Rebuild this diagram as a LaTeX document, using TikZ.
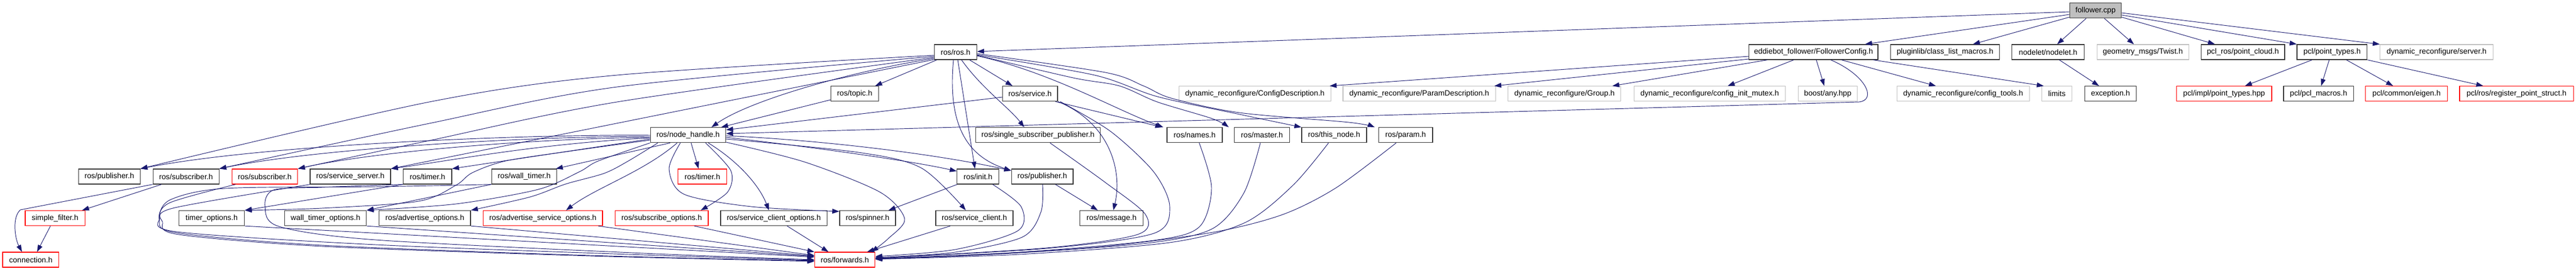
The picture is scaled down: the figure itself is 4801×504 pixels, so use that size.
\documentclass[tikz,border=0pt]{standalone}
\usepackage{fontspec}
\setmainfont{Liberation Sans}
\usetikzlibrary{arrows.meta}
\definecolor{edgec}{HTML}{191970}
\definecolor{gborder}{HTML}{BFBFBF}
\definecolor{curfill}{HTML}{BFBFBF}
\newcommand\nodefont{\fontsize{14.2pt}{17pt}\selectfont}
\begin{document}
\begin{tikzpicture}[x=1pt,y=-1pt,
  base/.style={rectangle, inner sep=0pt, minimum height=28pt, font=\nodefont, line width=1.3pt},
  nb/.style={base, draw=black!80},
  ng/.style={base, draw=gborder, line width=1.1pt},
  nr/.style={base, draw=red},
  w/.style={minimum width=#1},
  e/.style={draw=edgec, line width=0.95pt, -{Triangle[length=13pt,width=9pt]}}]
\useasboundingbox (0,0) rectangle (4801,504);
% row 0
\node[nb, fill=curfill, w=96.5] (fcpp) at (3905.5,19.7) {follower.cpp};
% row 1
\node[nb, w=79]    (ros)     at (1780.9,97) {ros/ros.h};
\node[nb, w=240.3] (fconf)   at (3379.9,97) {eddiebot\_follower/FollowerConfig.h};
\node[nb, w=203]   (plug)    at (3625,97) {pluginlib/class\_list\_macros.h};
\node[nb, w=135.2] (nodelet) at (3817.1,97) {nodelet/nodelet.h};
\node[ng, w=171]   (twist)   at (3993.7,97) {geometry\_msgs/Twist.h};
\node[nb, w=155.8] (pclros)  at (4180.1,97) {pcl\_ros/point\_cloud.h};
\node[nb, w=130.7] (ptypes)  at (4346.4,97) {pcl/point\_types.h};
\node[ng, w=211]   (server)  at (4541.2,97) {dynamic\_reconfigure/server.h};
% row 2
\node[nb, w=88.7]  (topic)   at (1592.9,174.7) {ros/topic.h};
\node[nb, w=102.5] (service) at (1919.7,174.7) {ros/service.h};
\node[ng, w=282.7] (cdesc)   at (2338.8,174.7) {dynamic\_reconfigure/ConfigDescription.h};
\node[ng, w=284.2] (pdesc)   at (2645.1,174.7) {dynamic\_reconfigure/ParamDescription.h};
\node[ng, w=210.2] (group)   at (2915.8,174.7) {dynamic\_reconfigure/Group.h};
\node[ng, w=282.2] (mutex)   at (3186.5,174.7) {dynamic\_reconfigure/config\_init\_mutex.h};
\node[ng, w=110.7] (any)     at (3406.4,174.7) {boost/any.hpp};
\node[ng, w=246.9] (ctools)  at (3658.7,174.7) {dynamic\_reconfigure/config\_tools.h};
\node[ng, w=56.6]  (limits)  at (3833.4,174.7) {limits};
\node[nb, w=96.4]  (exc)     at (3933.4,174.7) {exception.h};
\node[nr, w=177.8] (impl)    at (4145.1,174.7) {pcl/impl/point\_types.hpp};
\node[nb, w=130.2] (macros)  at (4321.1,174.7) {pcl/pcl\_macros.h};
\node[nr, w=152.7] (eigen)   at (4485.1,174.7) {pcl/common/eigen.h};
\node[nr, w=212.5] (reg)     at (4690.2,174.7) {pcl/ros/register\_point\_struct.h};
% row 3
\node[nb, w=140.4] (nh)       at (1282.4,251.7) {ros/node\_handle.h};
\node[nb, w=232.1] (ssp)      at (1934.5,251.7) {ros/single\_subscriber\_publisher.h};
\node[nb, w=103]   (names)    at (2226.5,251.7) {ros/names.h};
\node[nb, w=103.1] (master)   at (2352,251.7) {ros/master.h};
\node[nb, w=120.9] (thisnode) at (2486.5,251.7) {ros/this\_node.h};
\node[nb, w=100.5] (param)    at (2619.7,251.7) {ros/param.h};
% row 4
\node[nb, w=114.8] (pubL)   at (203.8,329) {ros/publisher.h};
\node[nb, w=123]   (subB)   at (346.7,329) {ros/subscriber.h};
\node[nr, w=122.5] (subR)   at (493.4,329) {ros/subscriber.h};
\node[nb, w=150]   (ssrv)   at (653,329) {ros/service\_server.h};
\node[nb, w=90.3]  (timerB) at (796.7,329) {ros/timer.h};
\node[nb, w=121.5] (wtimer) at (977,329) {ros/wall\_timer.h};
\node[nr, w=91.3]  (timerR) at (1309,329) {ros/timer.h};
\node[nb, w=78]    (init)   at (1822.7,329) {ros/init.h};
\node[nb, w=114.8] (pub2)   at (1942.6,329) {ros/publisher.h};
% row 5
\node[nr, w=111.3] (sfilter) at (102.6,406.5) {simple\_filter.h};
\node[nb, w=122.4] (topt)    at (394.4,406.5) {timer\_options.h};
\node[nb, w=152.1] (wtopt)   at (606.7,406.5) {wall\_timer\_options.h};
\node[nb, w=170.4] (aopt)    at (791.8,406.5) {ros/advertise\_options.h};
\node[nr, w=222.5] (asopt)   at (1011.8,406.5) {ros/advertise\_service\_options.h};
\node[nr, w=173.5] (subopt)  at (1233.2,406.5) {ros/subscribe\_options.h};
\node[nb, w=198.4] (scopt)   at (1442.1,406.5) {ros/service\_client\_options.h};
\node[nb, w=104.1] (spinner) at (1616.9,406.5) {ros/spinner.h};
\node[nb, w=143.9] (sclient) at (1815.9,406.5) {ros/service\_client.h};
\node[nb, w=117.8] (msg)     at (2071.7,406.5) {ros/message.h};
% row 6
\node[nr, w=104.6] (conn) at (57.4,484) {connection.h};
\node[nr, w=112.2] (fwd)  at (1574.5,484) {ros/forwards.h};

% ---- follower.cpp
\draw[e] (fcpp.west |- 0,22) -- (ros.east |- 0,96);
\draw[e] (fcpp.west |- 0,27) -- (3476,0 |- fconf.north);
\draw[e] (fcpp.west |- 0,32) -- (3677,0 |- plug.north);
\draw[e] (3888,0 |- fcpp.south) -- (3834,0 |- nodelet.north);
\draw[e] (3922,0 |- fcpp.south) -- (3977,0 |- twist.north);
\draw[e] (fcpp.east |- 0,32) -- (4128,0 |- pclros.north);
\draw[e] (fcpp.east |- 0,28) -- (ptypes.north west);
\draw[e] (fcpp.east |- 0,24) -- (server.north west);
% ---- pcl / nodelet
\draw[e] (4309,0 |- ptypes.south) -- (4184,0 |- impl.north);
\draw[e] (4341,0 |- ptypes.south) -- (4326,0 |- macros.north);
\draw[e] (4373,0 |- ptypes.south) -- (4460,0 |- eigen.north);
\draw[e] (ptypes.south east) -- (4628,0 |- reg.north);
\draw[e] (3838,0 |- nodelet.south) -- (3912,0 |- exc.north);
% ---- FollowerConfig
\draw[e] (3343,0 |- fconf.south) -- (3220,0 |- mutex.north);
\draw[e] (3385,0 |- fconf.south) -- (3400,0 |- any.north);
\draw[e] (3432,0 |- fconf.south) -- (3608,0 |- ctools.north);
\draw[e] (3491,0 |- fconf.south) -- (3809,0 |- limits.north);
\draw[e] (fconf.west |- 0,105) -- (2478,0 |- cdesc.north);
\draw[e] (fconf.west |- 0,110) -- (2785,0 |- pdesc.north);
\draw[e] (3294,0 |- fconf.south) -- (3005,0 |- group.north);
\draw[e] (3412,0 |- fconf.south) .. controls (3478,140) and (3498,186) .. (3465,190) -- (nh.east |- 0,249);
% ---- ros.h
\draw[e] (1746,0 |- ros.south) -- (1631,0 |- topic.north);
\draw[e] (ros.west |- 0,109) .. controls (1600,130) and (1400,185) .. (1326,0 |- nh.north);
\draw[e] (topic.west |- 0,186) -- (1344,0 |- nh.north);
\draw[e] (service.west |- 0,181) -- (nh.east |- 0,242);
\draw[e] (1807,0 |- ros.south) -- (1887,0 |- service.north);
\draw[e] (1792,0 |- ros.south) .. controls (1830,165) and (1880,200) .. (1909,0 |- ssp.north);
\draw[e] (1785,0 |- ros.south) -- (1817,0 |- init.north);
\draw[e] (1777,0 |- ros.south) .. controls (1766,230) and (1800,290) .. (pub2.west |- 0,318);
\draw[e] (ros.east |- 0,104) .. controls (1960,135) and (2080,205) .. (2168,0 |- names.north);
\draw[e] plot[smooth] coordinates {(ros.east |- 0,103) (2000,145) (2086,160) (2157,190) (2259,221) (2290,0 |- master.north)};
\draw[e] plot[smooth] coordinates {(ros.east |- 0,102) (2040,140) (2157,180) (2310,213) (thisnode.north west)};
\draw[e] plot[smooth] coordinates {(ros.east |- 0,100) (2060,135) (2131,160) (2183,183) (2310,210) (2514,228) (2562,0 |- param.north)};
\draw[e] plot[smooth] coordinates {(ros.west |- 0,103) (1150,140) (800,190) (pubL.north east)};
\draw[e] plot[smooth] coordinates {(ros.west |- 0,105) (1150,162) (800,230) (subB.north east)};
\draw[e] plot[smooth] coordinates {(ros.west |- 0,107) (1150,190) (800,262) (subR.north east)};
\draw[e] (ros.west |- 0,111) -- (ssrv.north east);
% ---- service.h
\draw[e] (1967,0 |- service.south) -- (2166,0 |- names.north);
\draw[e] (1972,0 |- service.south) .. controls (2070,230) and (2092,320) .. (2075,0 |- msg.north);
\draw[e] plot[smooth] coordinates {(1976,0 |- service.south) (2070,245) (2150,320) (2180,385) (2150,435) (1950,463) (fwd.east |- 0,481)};
% ---- into forwards from the right
\draw[e] plot[smooth] coordinates {(1957,0 |- ssp.south) (2060,340) (2135,400) (2120,437) (1950,462) (fwd.east |- 0,481)};
\draw[e] plot[smooth] coordinates {(2235,0 |- names.south) (2258,350) (2235,423) (2150,448) (1900,470) (fwd.east |- 0,482)};
\draw[e] plot[smooth] coordinates {(2349,0 |- master.south) (2318,360) (2258,427) (2130,454) (1850,474) (fwd.east |- 0,482)};
\draw[e] plot[smooth] coordinates {(2476,0 |- thisnode.south) (2410,345) (2320,415) (2180,452) (1900,474) (fwd.east |- 0,483)};
\draw[e] plot[smooth] coordinates {(2602,0 |- param.south) (2490,350) (2390,400) (2260,433) (2050,460) (1800,476) (fwd.east |- 0,483)};
% ---- publisher / init / service_client
\draw[e] (1967,0 |- pub2.south) -- (2046,0 |- msg.north);
\draw[e] plot[smooth] coordinates {(1943,0 |- pub2.south) (1940,395) (1905,442) (1780,470) (fwd.east |- 0,480)};
\draw[e] (1784,0 |- init.south) -- (1656,0 |- spinner.north);
\draw[e] plot[smooth] coordinates {(1850,0 |- init.south) (1903,385) (1897,430) (1780,465) (fwd.east |- 0,478)};
\draw[e] (1771,0 |- sclient.south) -- (1616,0 |- fwd.north);
% ---- node_handle.h
\draw[e] plot[smooth] coordinates {(nh.east |- 0,265) (1500,302) (1640,358) (1686,408) (1655,445) (1624,0 |- fwd.north)};
\draw[e] plot[smooth] coordinates {(nh.east |- 0,259) (1600,284) (1717,313) (1800,0 |- sclient.north)};
\draw[e] (nh.east |- 0,256) .. controls (1500,272) and (1700,300) .. (init.west |- 0,319);
\draw[e] (nh.east |- 0,253) .. controls (1550,262) and (1760,290) .. (pub2.west |- 0,318);
\draw[e] (1288,0 |- nh.south) -- (1302,0 |- timerR.north);
\draw[e] plot[smooth] coordinates {(1315,0 |- nh.south) (1362,318) (1356,358) (1306,0 |- subopt.north)};
\draw[e] (1320,0 |- nh.south) .. controls (1375,300) and (1415,345) .. (1433,0 |- scopt.north);
\draw[e] plot[smooth] coordinates {(1268,0 |- nh.south) (1247,315) (1275,362) (1400,385) (spinner.west |- 0,394)};
\draw[e] (1262,0 |- nh.south) .. controls (1200,320) and (1110,350) .. (1055,0 |- asopt.north);
\draw[e] plot[smooth] coordinates {(1226,0 |- nh.south) (1171,300) (1126,323) (1054,343) (988,367) (aopt.north east)};
\draw[e] plot[smooth] coordinates {(nh.south west) (1115,300) (1080,320) (1003,353) (850,380) (wtopt.north east)};
\draw[e] plot[smooth] coordinates {(nh.west |- 0,261) (1060,282) (942,300) (880,322) (850,345) (780,375) (600,388) (topt.north east)};
\draw[e] (1249,0 |- nh.south) -- (1036,0 |- wtimer.north);
\draw[e] (nh.west |- 0,259) -- (timerB.north east);
\draw[e] (nh.west |- 0,257) .. controls (1000,268) and (850,298) .. (ssrv.north east);
\draw[e] (nh.west |- 0,256) .. controls (1000,258) and (700,282) .. (subR.north east);
\draw[e] (nh.west |- 0,254) .. controls (1000,254) and (600,275) .. (subB.north east);
\draw[e] (nh.west |- 0,252) .. controls (1000,250) and (500,268) .. (pubL.north east);
% ---- timers
\draw[e] (timerB.south west) -- (topt.north east);
\draw[e] (wtimer.south west) -- (wtopt.north east);
% ---- loops into forwards from the left
\draw[e] plot[smooth] coordinates {(wtimer.south west) (700,348) (420,351) (318,372) (298,405) (330,432) (700,456) (1200,475) (fwd.west |- 0,485)};
\draw[e] plot[smooth] coordinates {(timerB.south west) (600,349) (510,354) (494,385) (520,422) (700,447) (1200,472) (fwd.west |- 0,484)};
\draw[e] plot[smooth] coordinates {(439,0 |- subR.south) (316,378) (297,410) (330,434) (600,457) (1100,476) (fwd.west |- 0,486)};
\draw[e] plot[smooth] coordinates {(578,0 |- ssrv.south) (322,388) (303,414) (333,437) (600,459) (1100,477) (fwd.west |- 0,487)};
\draw[e] (topt.south east) -- (fwd.west |- 0,479);
\draw[e] (wtopt.south east) -- (fwd.west |- 0,478);
\draw[e] (aopt.south east) -- (fwd.west |- 0,477);
\draw[e] (1115,0 |- asopt.south) -- (fwd.west |- 0,476);
\draw[e] (1294,0 |- subopt.south) -- (fwd.north west);
\draw[e] (1467,0 |- scopt.south) -- (1544,0 |- fwd.north);
% ---- subscriber / simple_filter / connection
\draw[e] (301,0 |- subB.south) -- (153,0 |- sfilter.north);
\draw[e] (subB.south west) -- (38,391) .. controls (22,405) and (28,445) .. (41,0 |- conn.north);
\draw[e] (94,0 |- sfilter.south) -- (69,0 |- conn.north);
\end{tikzpicture}
\end{document}
